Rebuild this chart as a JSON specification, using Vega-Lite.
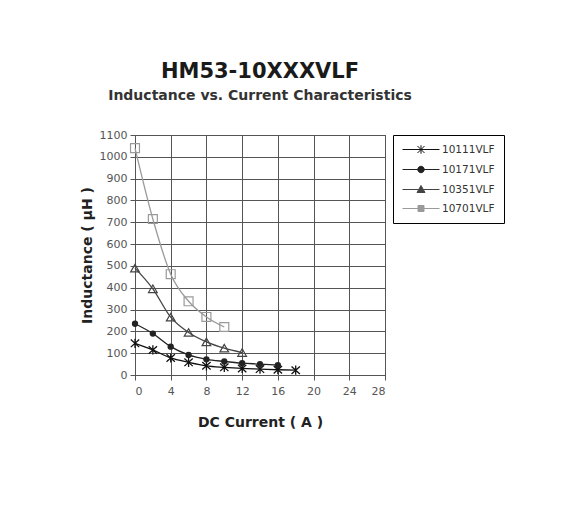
{
  "$schema": "https://vega.github.io/schema/vega-lite/v6.json",
  "autosize": "none",
  "width": 250,
  "height": 240,
  "padding": {"left": 135, "top": 135, "right": 185, "bottom": 135},
  "background": "white",
  "title": {
    "text": "HM53-10XXXVLF",
    "subtitle": "Inductance vs. Current Characteristics",
    "anchor": "middle",
    "font": "DejaVu Sans",
    "fontSize": 21,
    "fontWeight": "bold",
    "color": "#1a1a1a",
    "subtitleFont": "DejaVu Sans",
    "subtitleFontSize": 14,
    "subtitleFontWeight": "bold",
    "subtitleColor": "#333",
    "subtitlePadding": 7,
    "offset": 26
  },
  "data": {
    "values": [
      {"series": "10111VLF", "x": 0, "y": 145},
      {"series": "10111VLF", "x": 2, "y": 115},
      {"series": "10111VLF", "x": 4, "y": 78},
      {"series": "10111VLF", "x": 6, "y": 58},
      {"series": "10111VLF", "x": 8, "y": 42},
      {"series": "10111VLF", "x": 10, "y": 35},
      {"series": "10111VLF", "x": 12, "y": 30},
      {"series": "10111VLF", "x": 14, "y": 27},
      {"series": "10111VLF", "x": 16, "y": 24},
      {"series": "10111VLF", "x": 18, "y": 22},
      {"series": "10171VLF", "x": 0, "y": 235},
      {"series": "10171VLF", "x": 2, "y": 190},
      {"series": "10171VLF", "x": 4, "y": 130},
      {"series": "10171VLF", "x": 6, "y": 92},
      {"series": "10171VLF", "x": 8, "y": 72},
      {"series": "10171VLF", "x": 10, "y": 62},
      {"series": "10171VLF", "x": 12, "y": 54},
      {"series": "10171VLF", "x": 14, "y": 50},
      {"series": "10171VLF", "x": 16, "y": 45},
      {"series": "10351VLF", "x": 0, "y": 490},
      {"series": "10351VLF", "x": 2, "y": 395},
      {"series": "10351VLF", "x": 4, "y": 265},
      {"series": "10351VLF", "x": 6, "y": 195},
      {"series": "10351VLF", "x": 8, "y": 152},
      {"series": "10351VLF", "x": 10, "y": 123},
      {"series": "10351VLF", "x": 12, "y": 103},
      {"series": "10701VLF", "x": 0, "y": 1040},
      {"series": "10701VLF", "x": 2, "y": 715},
      {"series": "10701VLF", "x": 4, "y": 462},
      {"series": "10701VLF", "x": 6, "y": 338},
      {"series": "10701VLF", "x": 8, "y": 266},
      {"series": "10701VLF", "x": 10, "y": 220}
    ]
  },
  "encoding": {
    "x": {
      "field": "x", "type": "quantitative",
      "scale": {"domain": [0, 28], "nice": false},
      "axis": {
        "values": [0, 4, 8, 12, 16, 20, 24, 28],
        "format": "d",
        "title": "DC Current ( A )",
        "titlePadding": 19,
        "labelPadding": 5
      }
    },
    "y": {
      "field": "y", "type": "quantitative",
      "scale": {"domain": [0, 1100], "nice": false},
      "axis": {
        "values": [0, 100, 200, 300, 400, 500, 600, 700, 800, 900, 1000, 1100],
        "format": "d",
        "title": "Inductance ( μH )",
        "titlePadding": 5
      }
    }
  },
  "layer": [
    {
      "mark": {"type": "line", "interpolate": "monotone", "strokeWidth": 1.3},
      "encoding": {
        "color": {
          "field": "series", "type": "nominal",
          "scale": {"domain": ["10111VLF", "10171VLF", "10351VLF", "10701VLF"], "range": ["#111111", "#222222", "#444444", "#9a9a9a"]},
          "legend": {
            "title": null,
            "orient": "right",
            "offset": 8,
            "padding": 9,
            "strokeColor": "#000",
            "symbolSize": 100,
            "symbolStrokeWidth": 1,
            "labelOffset": 29,
            "rowPadding": 8,
            "labelFont": "DejaVu Sans",
            "labelFontSize": 10.5,
            "labelColor": "#333",
            "encode": {
              "symbols": {
                "update": {
                  "shape": {"signal": "datum.value === '10111VLF' ? 'M-1,0H6.4M2.0,-0.7L3.4,0.7M2.0,0.7L3.4,-0.7M2.7,-0.85V0.85' : datum.value === '10171VLF' ? 'M-1,0H6.4M3.35,0A0.65,0.65,0,1,1,2.05,0A0.65,0.65,0,1,1,3.35,0Z' : datum.value === '10351VLF' ? 'M-1,0H2.24M3.16,0H6.4M2.7,-0.8L3.5,0.6H1.9Z' : 'M-1,0H2.1M3.3,0H6.4M2.1,-0.6H3.3V0.6H2.1Z'"},
                  "fill": {"signal": "datum.value === '10171VLF' ? '#222222' : 'white'"},
                  "stroke": {"scale": "color", "field": "value"},
                  "strokeWidth": {"value": 1},
                  "size": {"value": 100},
                  "opacity": {"value": 1}
                }
              }
            }
          }
        }
      }
    },
    {
      "transform": [{"filter": "datum.series == '10111VLF'"}],
      "mark": {"type": "point", "filled": false, "size": 70, "strokeWidth": 1.3, "opacity": 1, "shape": "M-1,-0.9L1,0.9M-1,0.9L1,-0.9M0,-1.1V1.1"},
      "encoding": {"color": {"field": "series", "type": "nominal", "legend": null}}
    },
    {
      "transform": [{"filter": "datum.series == '10171VLF'"}],
      "mark": {"type": "point", "filled": true, "shape": "circle", "size": 40, "opacity": 1},
      "encoding": {"color": {"field": "series", "type": "nominal", "legend": null}}
    },
    {
      "transform": [{"filter": "datum.series == '10351VLF'"}],
      "mark": {"type": "point", "filled": false, "shape": "triangle-up", "size": 75, "strokeWidth": 1.2, "opacity": 1},
      "encoding": {"color": {"field": "series", "type": "nominal", "legend": null}}
    },
    {
      "transform": [{"filter": "datum.series == '10701VLF'"}],
      "mark": {"type": "point", "filled": false, "shape": "square", "size": 80, "strokeWidth": 1.2, "opacity": 1},
      "encoding": {"color": {"field": "series", "type": "nominal", "legend": null}}
    }
  ],
  "config": {
    "view": {"stroke": "#555"},
    "axis": {
      "grid": true,
      "gridColor": "#555",
      "gridOpacity": 1,
      "gridWidth": 1,
      "domainColor": "#555",
      "tickColor": "#555",
      "tickSize": 5,
      "labelFont": "DejaVu Sans",
      "labelFontSize": 11,
      "labelColor": "#555",
      "labelPadding": 3,
      "titleFont": "DejaVu Sans",
      "titleFontSize": 14,
      "titleFontWeight": "bold",
      "titleColor": "#222"
    }
  }
}
